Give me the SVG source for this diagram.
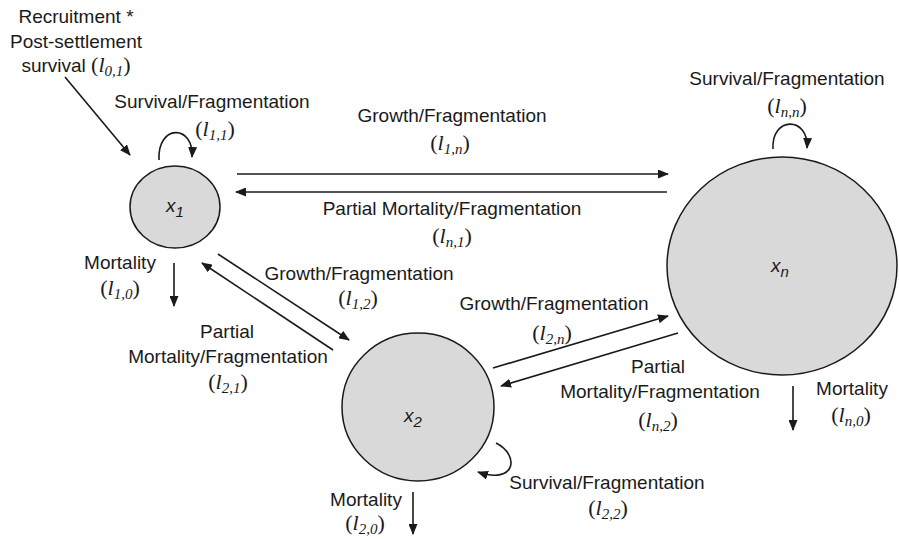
<svg xmlns="http://www.w3.org/2000/svg" width="899" height="539" viewBox="0 0 899 539">
<style>
.t{font-family:"Liberation Sans",Arial,sans-serif;font-size:19px;fill:#1a1a1a}
.m{font-family:"Liberation Serif","Times New Roman",serif;font-size:22px;fill:#1a1a1a}
.i{font-style:italic}
.s{font-size:15px;font-style:italic}
.ns{font-size:15px;font-style:italic}
.node{fill:#d9d9d9;stroke:#1a1a1a;stroke-width:1.5}
.c{fill:none;stroke:#1a1a1a;stroke-width:1.6;marker-end:url(#ah)}
</style>
<defs>
<marker id="ah" markerUnits="userSpaceOnUse" markerWidth="11" markerHeight="9" refX="10" refY="4.5" orient="auto">
<path d="M0,0 L11,4.5 L0,9 z" fill="#1a1a1a"/>
</marker>
</defs>
<rect width="899" height="539" fill="#ffffff"/>
<g id="node-x1">
<ellipse class="node" cx="175" cy="207" rx="45" ry="41"/>
<text class="t i" x="166" y="212">x<tspan class="ns" dy="5">1</tspan></text>
</g>
<g id="node-x2">
<ellipse class="node" cx="418" cy="407" rx="76" ry="74"/>
<text class="t i" x="404" y="422">x<tspan class="ns" dy="5">2</tspan></text>
</g>
<g id="node-xn">
<ellipse class="node" cx="782" cy="266" rx="115" ry="109"/>
<text class="t i" x="771" y="272">x<tspan class="ns" dy="5">n</tspan></text>
</g>
<g id="connectors">
<path class="c" d="M65,77 L130,155"/>
<path class="c" d="M159,160 C157,124 194,124 192,157"/>
<path class="c" d="M773,149 C771,116 809,116 807,148"/>
<path class="c" d="M496,443 C520,455 516,485 478,472"/>
<path class="c" d="M237,174 L668,174"/>
<path class="c" d="M667,192 L236,192"/>
<path class="c" d="M218,254 L349,340"/>
<path class="c" d="M333,350 L202,263"/>
<path class="c" d="M493,368 L668,316"/>
<path class="c" d="M678,333 L501,386"/>
<path class="c" d="M174,263 L174,306"/>
<path class="c" d="M413,492 L413,534"/>
<path class="c" d="M793,386 L793,430"/>
</g>
<g id="labels">
<text class="t" x="76" y="23" text-anchor="middle">Recruitment *</text>
<text class="t" x="76" y="48" text-anchor="middle">Post-settlement</text>
<text x="76" y="72" text-anchor="middle"><tspan class="t">survival </tspan><tspan class="m">(<tspan class="i">l</tspan><tspan class="s" dy="4">0,1</tspan><tspan dy="-4">)</tspan></tspan></text>

<text class="t" x="212" y="108" text-anchor="middle">Survival/Fragmentation</text>
<text class="m" x="215" y="136" text-anchor="middle">(<tspan class="i">l</tspan><tspan class="s" dy="4">1,1</tspan><tspan dy="-4">)</tspan></text>

<text class="t" x="452" y="122" text-anchor="middle">Growth/Fragmentation</text>
<text class="m" x="450" y="150" text-anchor="middle">(<tspan class="i">l</tspan><tspan class="s" dy="4">1,n</tspan><tspan dy="-4">)</tspan></text>

<text class="t" x="452" y="215" text-anchor="middle">Partial Mortality/Fragmentation</text>
<text class="m" x="452" y="243" text-anchor="middle">(<tspan class="i">l</tspan><tspan class="s" dy="4">n,1</tspan><tspan dy="-4">)</tspan></text>

<text class="t" x="787" y="85" text-anchor="middle">Survival/Fragmentation</text>
<text class="m" x="787" y="113" text-anchor="middle">(<tspan class="i">l</tspan><tspan class="s" dy="4">n,n</tspan><tspan dy="-4">)</tspan></text>

<text class="t" x="120" y="269" text-anchor="middle">Mortality</text>
<text class="m" x="120" y="295" text-anchor="middle">(<tspan class="i">l</tspan><tspan class="s" dy="4">1,0</tspan><tspan dy="-4">)</tspan></text>

<text class="t" x="359" y="280" text-anchor="middle">Growth/Fragmentation</text>
<text class="m" x="358" y="305" text-anchor="middle">(<tspan class="i">l</tspan><tspan class="s" dy="4">1,2</tspan><tspan dy="-4">)</tspan></text>

<text class="t" x="227" y="338" text-anchor="middle">Partial</text>
<text class="t" x="228" y="363" text-anchor="middle">Mortality/Fragmentation</text>
<text class="m" x="228" y="389" text-anchor="middle">(<tspan class="i">l</tspan><tspan class="s" dy="4">2,1</tspan><tspan dy="-4">)</tspan></text>

<text class="t" x="554" y="310" text-anchor="middle">Growth/Fragmentation</text>
<text class="m" x="552" y="340" text-anchor="middle">(<tspan class="i">l</tspan><tspan class="s" dy="4">2,n</tspan><tspan dy="-4">)</tspan></text>

<text class="t" x="658" y="373" text-anchor="middle">Partial</text>
<text class="t" x="660" y="398" text-anchor="middle">Mortality/Fragmentation</text>
<text class="m" x="658" y="427" text-anchor="middle">(<tspan class="i">l</tspan><tspan class="s" dy="4">n,2</tspan><tspan dy="-4">)</tspan></text>

<text class="t" x="852" y="395" text-anchor="middle">Mortality</text>
<text class="m" x="851" y="422" text-anchor="middle">(<tspan class="i">l</tspan><tspan class="s" dy="4">n,0</tspan><tspan dy="-4">)</tspan></text>

<text class="t" x="607" y="489" text-anchor="middle">Survival/Fragmentation</text>
<text class="m" x="608" y="515" text-anchor="middle">(<tspan class="i">l</tspan><tspan class="s" dy="4">2,2</tspan><tspan dy="-4">)</tspan></text>

<text class="t" x="366" y="506" text-anchor="middle">Mortality</text>
<text class="m" x="365" y="530" text-anchor="middle">(<tspan class="i">l</tspan><tspan class="s" dy="4">2,0</tspan><tspan dy="-4">)</tspan></text>
</g>
</svg>
